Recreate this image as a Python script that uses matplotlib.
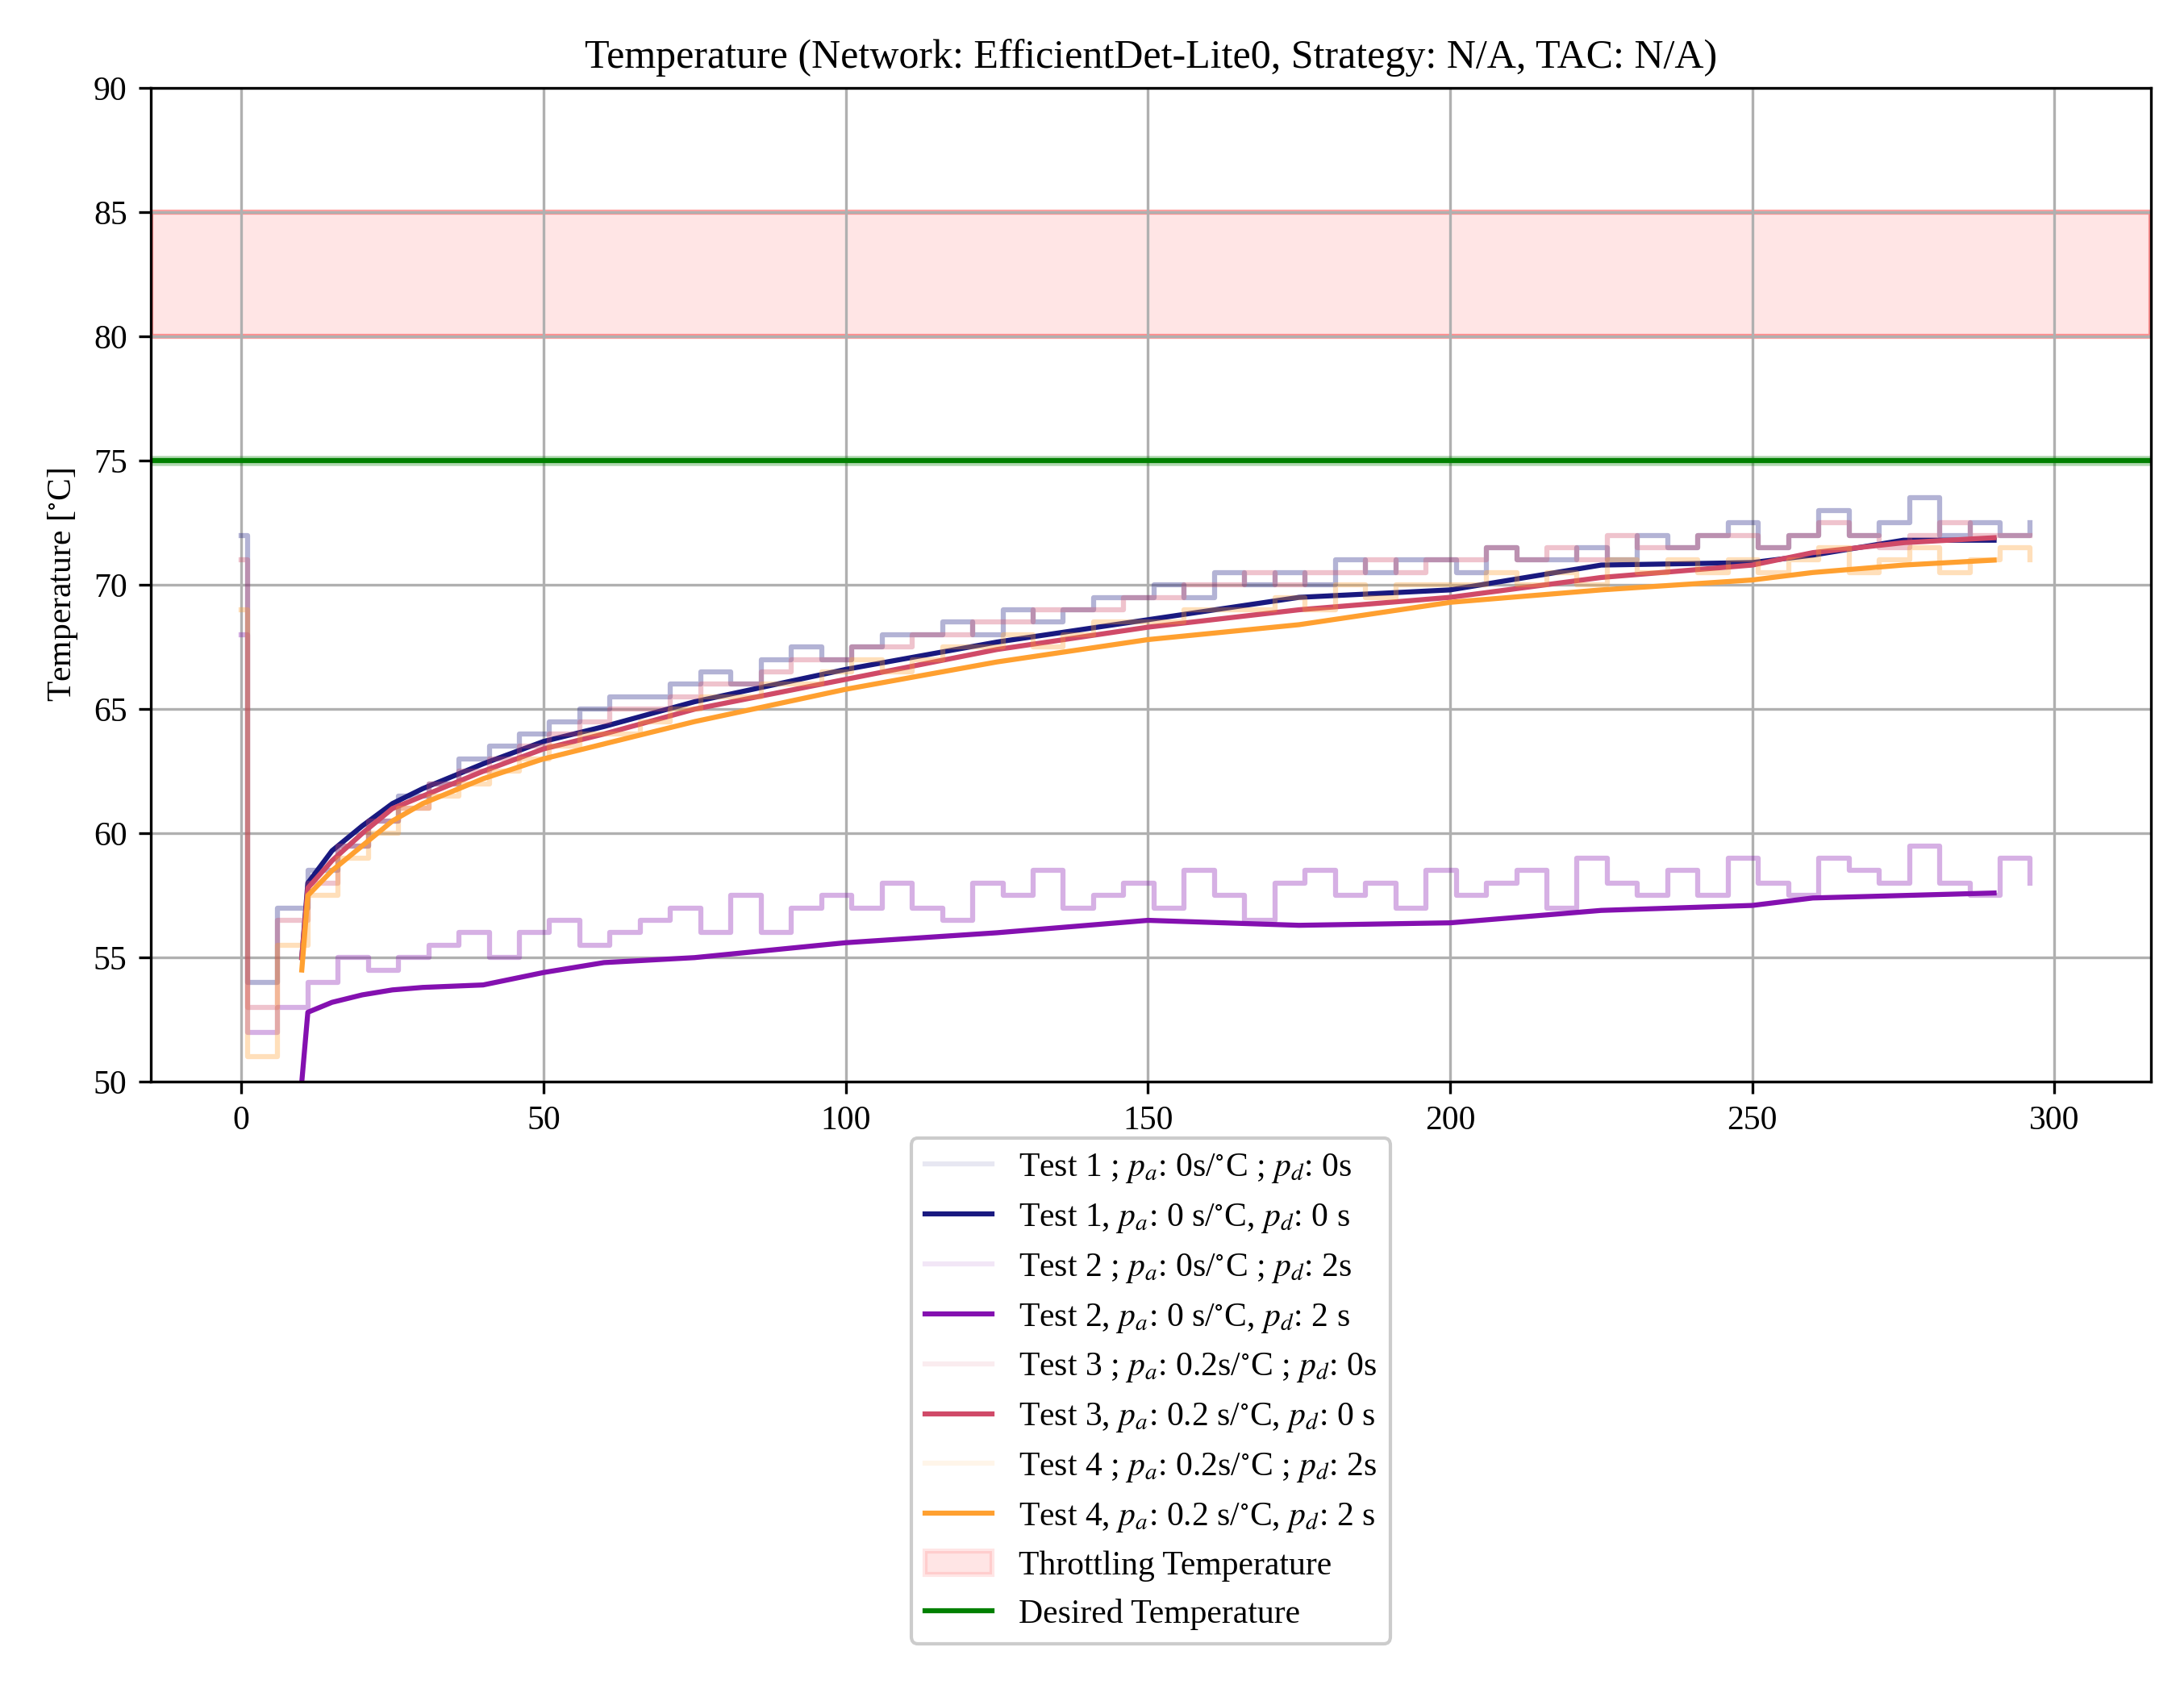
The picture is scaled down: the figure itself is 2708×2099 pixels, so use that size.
import numpy as np
import matplotlib
matplotlib.use("Agg")
import matplotlib.pyplot as plt

plt.rcParams['font.family'] = ['Liberation Serif', 'DejaVu Serif']
plt.rcParams['mathtext.fontset'] = 'stix'
plt.rcParams['font.size'] = 10

raw_t = np.r_[0, np.arange(1, 301, 5)]
raw1 = [72, 54,57,58.5,59.5,60.5,61.5,62,63,63.5,
 64,64.5,65,65.5,65.5,66,66.5,66,67,67.5,
 67,67.5,68,68,68.5,68,69,68.5,69,69.5,
 69.5,70,69.5,70.5,70,70.5,70,71,70.5,71,
 71,70.5,71.5,71,71,71.5,71,72,71.5,72,
 72.5,71.5,72,73,72,72.5,73.5,72,72.5,72,
 72.5]
raw2 = [68, 52,53,54,55,54.5,55,55.5,56,55,
 56,56.5,55.5,56,56.5,57,56,57.5,56,57,
 57.5,57,58,57,56.5,58,57.5,58.5,57,57.5,
 58,57,58.5,57.5,56.5,58,58.5,57.5,58,57,
 58.5,57.5,58,58.5,57,59,58,57.5,58.5,57.5,
 59,58,57.5,59,58.5,58,59.5,58,57.5,59,
 58]
raw3 = [71, 53,56.5,58,59.5,60.5,61,62,62.5,63,
 63.5,64,64.5,65,65,65.5,66,66,66.5,67,
 67,67.5,67.5,68,68,68.5,68.5,69,69,69,
 69.5,69.5,70,70,70.5,70,70.5,70.5,71,70.5,
 71,71,71.5,71,71.5,71,72,71.5,71.5,72,
 72,71.5,72,72.5,72,71.5,72,72.5,72,72,
 72]
raw4 = [69, 51,55.5,57.5,59,60,61,61.5,62,62.5,
 63,63.5,64,64,64.5,65,65.5,65.5,66,66,
 66.5,67,66.5,67,67.5,67.5,68,67.5,68,68.5,
 68.5,68.5,69,69,69,69.5,69,70,69.5,70,
 70,70,70.5,70,70.5,70,71,70.5,71,70.5,
 71,70.5,71,71.5,70.5,71,71.5,70.5,71,71.5,
 71]

mean_t = [10,11,15,20,25,30,40,50,60,75,100,125,150,175,200,225,250,260,275,290]
mean1 = [55,58,59.3,60.3,61.2,61.8,62.8,63.7,64.3,65.3,66.6,67.7,68.6,69.5,69.8,70.8,70.9,71.2,71.8,71.8]
mean2 = [50,52.8,53.2,53.5,53.7,53.8,53.9,54.4,54.8,55,55.6,56,56.5,56.3,56.4,56.9,57.1,57.4,57.5,57.6]
mean3 = [55,57.8,58.9,60,61,61.5,62.5,63.4,64,65,66.2,67.4,68.3,69,69.5,70.3,70.8,71.3,71.7,71.9]
mean4 = [54.5,57.5,58.5,59.5,60.5,61.2,62.2,63,63.6,64.5,65.8,66.9,67.8,68.4,69.3,69.8,70.2,70.5,70.8,71]

labels_raw = [r"Test 1 ; $p_a$: 0s/$^{\circ}$C ; $p_d$: 0s",
              r"Test 2 ; $p_a$: 0s/$^{\circ}$C ; $p_d$: 2s",
              r"Test 3 ; $p_a$: 0.2s/$^{\circ}$C ; $p_d$: 0s",
              r"Test 4 ; $p_a$: 0.2s/$^{\circ}$C ; $p_d$: 2s"]
labels_mean = [r"Test 1, $p_a$: 0 s/$^{\circ}$C, $p_d$: 0 s",
               r"Test 2, $p_a$: 0 s/$^{\circ}$C, $p_d$: 2 s",
               r"Test 3, $p_a$: 0.2 s/$^{\circ}$C, $p_d$: 0 s",
               r"Test 4, $p_a$: 0.2 s/$^{\circ}$C, $p_d$: 2 s"]
colors = ['#191980', '#8410B0', '#D04A68', '#FFA030']

fig = plt.figure(figsize=(2708/300, 2099/300), dpi=300)
ax = fig.add_axes([0.069, 0.361, 0.916, 0.587])

for raw, m, c, lr, lm in zip([raw1, raw2, raw3, raw4], [mean1, mean2, mean3, mean4], colors, labels_raw, labels_mean):
    ax.plot(raw_t, raw, drawstyle='steps-post', color=c, alpha=0.1, lw=1.5, label=lr)
    ax.plot(raw_t, raw, drawstyle='steps-post', color=c, alpha=0.25, lw=1.5)
    ax.plot(mean_t, m, color=c, lw=1.5, label=lm)

ax.axhspan(80, 85, facecolor='red', alpha=0.1, edgecolor='red', lw=1.5, label='Throttling Temperature')
ax.axhspan(80, 85, facecolor='none', edgecolor=(1, 0, 0, 0.3), lw=1.5)
ax.axhline(75, color='green', lw=1.5, label='Desired Temperature')
ax.axhline(75, color='green', lw=3, alpha=0.3)

ax.set_xlim(-15, 316)
ax.set_ylim(50, 90)
ax.set_xticks([0, 50, 100, 150, 200, 250, 300])
ax.grid(True)
ax.set_xlabel('Time [s]')
ax.set_ylabel(r'Temperature [$^{\circ}$C]')
ax.set_title('Temperature (Network: EfficientDet-Lite0, Strategy: N/A, TAC: N/A)')
ax.legend(loc='upper center', bbox_to_anchor=(0.5, -0.04), framealpha=1)

fig.savefig('out.png', dpi=300)
